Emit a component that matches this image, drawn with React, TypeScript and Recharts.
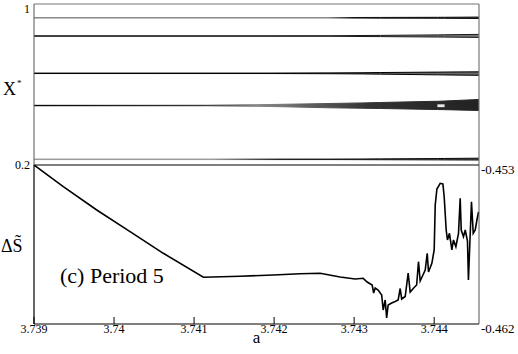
import { Area, ComposedChart, Line, ReferenceLine, XAxis, YAxis } from "recharts";

const SERIF = "'Liberation Serif', 'Times New Roman', 'DejaVu Serif', serif";

// x axis (parameter a)
const aDomain = [3.739, 3.74456];
const aTicks = [3.739, 3.74, 3.741, 3.742, 3.743, 3.744];
// top panel: X* (left), bottom panel: delta S (right)
const xStarTicks = [0.2, 1];
const dsTicks = [-0.453, -0.462];

// bifurcation branches, [lo, hi] at each a
const bandA = [3.739, 3.7405, 3.74116, 3.74195, 3.7427, 3.74311, 3.74333, 3.74401, 3.74404, 3.74413, 3.74456];
const branch1 = [
  [0.9305, 0.9325], [0.9305, 0.9325], [0.9305, 0.9325], [0.9305, 0.9325], [0.9305, 0.9325],
  [0.93, 0.933], [0.9298, 0.9332], [0.9292, 0.9338], [0.9292, 0.9338], [0.929, 0.934], [0.9283, 0.935],
];
const branch2 = [
  [0.8398, 0.842], [0.8398, 0.842], [0.8398, 0.842], [0.8398, 0.842], [0.8396, 0.8422],
  [0.8385, 0.8435], [0.838, 0.844], [0.836, 0.8465], [0.836, 0.8465], [0.8355, 0.847], [0.834, 0.849],
];
const branch3 = [
  [0.6545, 0.6567], [0.6545, 0.6567], [0.6545, 0.6567], [0.6545, 0.6567], [0.6535, 0.6577],
  [0.6525, 0.6585], [0.6515, 0.6595], [0.648, 0.6615], [0.648, 0.6615], [0.6475, 0.662], [0.6455, 0.663],
];
const branch4 = [
  [0.4945, 0.4965], [0.4945, 0.4965], [0.4945, 0.4967], [0.4907, 0.5006], [0.4842, 0.5056],
  [0.482, 0.5085], [0.4808, 0.5106], [0.4758, 0.5165], [0.4758, 0.5165], [0.475, 0.518], [0.4708, 0.5255],
];
const branch5 = [
  [0.227, 0.2295], [0.227, 0.2295], [0.227, 0.2295], [0.227, 0.2295], [0.227, 0.2295],
  [0.2265, 0.23], [0.2262, 0.2305], [0.2255, 0.232], [0.2255, 0.232], [0.2253, 0.2325], [0.2248, 0.2338],
];
// periodic window inside branch 4
const window4 = [null, null, null, null, null, null, null, null, [0.4875, 0.5015], [0.4875, 0.5015], null];

// delta S curve
const dsA = [
  3.739, 3.739366, 3.739784, 3.7402, 3.740616, 3.741116, 3.741575, 3.741988, 3.742325, 3.742575,
  3.742825, 3.743013, 3.743113, 3.743163, 3.743225, 3.743244, 3.743263, 3.7433, 3.743344, 3.743363,
  3.743388, 3.743406, 3.743425, 3.743469, 3.743513, 3.74355, 3.743575, 3.743594, 3.743638, 3.743675,
  3.7437, 3.743744, 3.743781, 3.743804, 3.743825, 3.743888, 3.743913, 3.743929, 3.743971, 3.744,
  3.744013, 3.744034, 3.744075, 3.744109, 3.744125, 3.74415, 3.744166, 3.744191, 3.744221, 3.744241,
  3.744271, 3.744304, 3.744325, 3.744338, 3.744366, 3.744388, 3.744416, 3.744428, 3.744444, 3.744466,
  3.744488, 3.744513, 3.744534, 3.744554,
];
const dsV = [
  -0.453, -0.454228, -0.455547, -0.456775, -0.457998, -0.459356, -0.4593, -0.459226, -0.459152, -0.45913,
  -0.459339, -0.459452, -0.459413, -0.459622, -0.459792, -0.460245, -0.459962, -0.460075, -0.460358, -0.461207,
  -0.460641, -0.46166, -0.460924, -0.460811, -0.460726, -0.460641, -0.45999, -0.460584, -0.460443, -0.459113,
  -0.460188, -0.459962, -0.459792, -0.458473, -0.459566, -0.458943, -0.457998, -0.459056, -0.458564, -0.457811,
  -0.455264, -0.454358, -0.454036, -0.454075, -0.454794, -0.456679, -0.457245, -0.456866, -0.457811, -0.457245,
  -0.457624, -0.456866, -0.454885, -0.456679, -0.457058, -0.456679, -0.457302, -0.459509, -0.457624, -0.455077,
  -0.456866, -0.456679, -0.456113, -0.45566,
];

const bandRows = bandA.map((a, i) => ({
  a,
  b1: branch1[i],
  b2: branch2[i],
  b3: branch3[i],
  b4: branch4[i],
  b5: branch5[i],
  w4: window4[i],
}));
const dsRows = dsA.map((a, i) => ({ a, ds: dsV[i] }));

const LeftTick = ({ x, y, payload }: any) => (
  <text x={x} y={y + 4} textAnchor="end" fontFamily={SERIF} fontSize={12} fill="#000">
    {payload.value}
  </text>
);

const RightTick = ({ x, y, payload }: any) => (
  <text x={x} y={y + 9} textAnchor="start" fontFamily={SERIF} fontSize={13} fill="#000">
    {payload.value}
  </text>
);

const BottomTick = ({ x, y, payload }: any) => (
  <text x={x} y={y + 9} textAnchor="middle" fontFamily={SERIF} fontSize={12} fill="#000">
    {payload.value}
  </text>
);

export default function App() {
  return (
    <div style={{ position: "absolute", left: 0, top: 0, width: 518, height: 354, background: "#fff" }}>
      <div style={{ position: "absolute", left: 0, top: 0 }}>
        <ComposedChart width={518} height={175} data={bandRows} margin={{ top: 4, right: 39, bottom: 10, left: 0 }}>
          <defs>
            <linearGradient id="fadeLate" gradientUnits="userSpaceOnUse" x1={34} y1={0} x2={479} y2={0}>
              <stop offset="0" stopColor="#888" />
              <stop offset="0.66" stopColor="#888" />
              <stop offset="0.72" stopColor="#111" />
              <stop offset="1" stopColor="#000" />
            </linearGradient>
            <linearGradient id="fadeMid" gradientUnits="userSpaceOnUse" x1={34} y1={0} x2={479} y2={0}>
              <stop offset="0" stopColor="#999" />
              <stop offset="0.4" stopColor="#999" />
              <stop offset="0.55" stopColor="#222" />
              <stop offset="1" stopColor="#000" />
            </linearGradient>
            <linearGradient id="wedge" gradientUnits="userSpaceOnUse" x1={34} y1={0} x2={479} y2={0}>
              <stop offset="0" stopColor="#000" />
              <stop offset="0.38" stopColor="#333" />
              <stop offset="0.5" stopColor="#888" />
              <stop offset="0.75" stopColor="#333" />
              <stop offset="1" stopColor="#222" />
            </linearGradient>
          </defs>
          <XAxis dataKey="a" type="number" domain={aDomain} allowDataOverflow hide />
          <YAxis
            type="number"
            domain={[0.2, 1]}
            ticks={xStarTicks}
            width={34}
            tickSize={0}
            tickMargin={4}
            tickLine={false}
            axisLine={{ stroke: "#555" }}
            tick={LeftTick}
            allowDataOverflow
          />
          <ReferenceLine y={1} stroke="#777" strokeWidth={1.2} />
          <ReferenceLine x={aDomain[1]} stroke="#777" strokeWidth={1.2} />
          <Area dataKey="b1" type="linear" stroke="url(#fadeLate)" fill="url(#fadeLate)" strokeWidth={1} isAnimationActive={false} />
          <Area dataKey="b2" type="linear" stroke="#1a1a1a" fill="#1a1a1a" strokeWidth={1} isAnimationActive={false} />
          <Area dataKey="b3" type="linear" stroke="#000" fill="#000" strokeWidth={1} isAnimationActive={false} />
          <Area dataKey="b4" type="linear" stroke="url(#wedge)" fill="url(#wedge)" fillOpacity={1} strokeWidth={1} isAnimationActive={false} />
          <Area dataKey="w4" type="linear" stroke="none" fill="#fff" fillOpacity={0.9} isAnimationActive={false} />
          <Area dataKey="b5" type="linear" stroke="url(#fadeMid)" fill="url(#fadeMid)" strokeWidth={1} isAnimationActive={false} />
        </ComposedChart>
      </div>
      <div style={{ position: "absolute", left: 0, top: 0 }}>
        <ComposedChart width={518} height={354} data={dsRows} margin={{ top: 165, right: 0, bottom: 0, left: 34 }}>
          <XAxis
            dataKey="a"
            type="number"
            domain={aDomain}
            ticks={aTicks}
            allowDataOverflow
            height={30}
            tickSize={-7}
            tickMargin={7}
            tickLine={{ stroke: "#000" }}
            axisLine={{ stroke: "#000" }}
            tick={BottomTick}
            label={{ value: "a", position: "insideBottom", offset: 11, fontFamily: SERIF, fontSize: 17, fill: "#000" }}
          />
          <YAxis
            orientation="right"
            type="number"
            domain={[-0.462, -0.453]}
            ticks={dsTicks}
            width={39}
            tickSize={0}
            tickMargin={2}
            tickLine={false}
            axisLine={{ stroke: "#555" }}
            tick={RightTick}
            allowDataOverflow
          />
          <ReferenceLine x={aDomain[0]} stroke="#000" strokeWidth={1.2} />
          <ReferenceLine y={-0.453} stroke="#000" strokeWidth={1.2} />
          <Line dataKey="ds" type="linear" stroke="#000" strokeWidth={1.6} dot={false} isAnimationActive={false} />
        </ComposedChart>
      </div>
      <svg width={518} height={354} style={{ position: "absolute", left: 0, top: 0, pointerEvents: "none" }}>
        <text x={3} y={95} fontFamily={SERIF} fontSize={18} fill="#000">
          X
          <tspan dx={1} dy={-9} fontSize={9}>
            *
          </tspan>
        </text>
        <text x={1} y={252} fontFamily={SERIF} fontSize={18} fill="#000">
          {"ΔS\u0303"}
        </text>
        <text x={60} y={283} fontFamily={SERIF} fontSize={22} fill="#000">
          (c) Period 5
        </text>
      </svg>
    </div>
  );
}
